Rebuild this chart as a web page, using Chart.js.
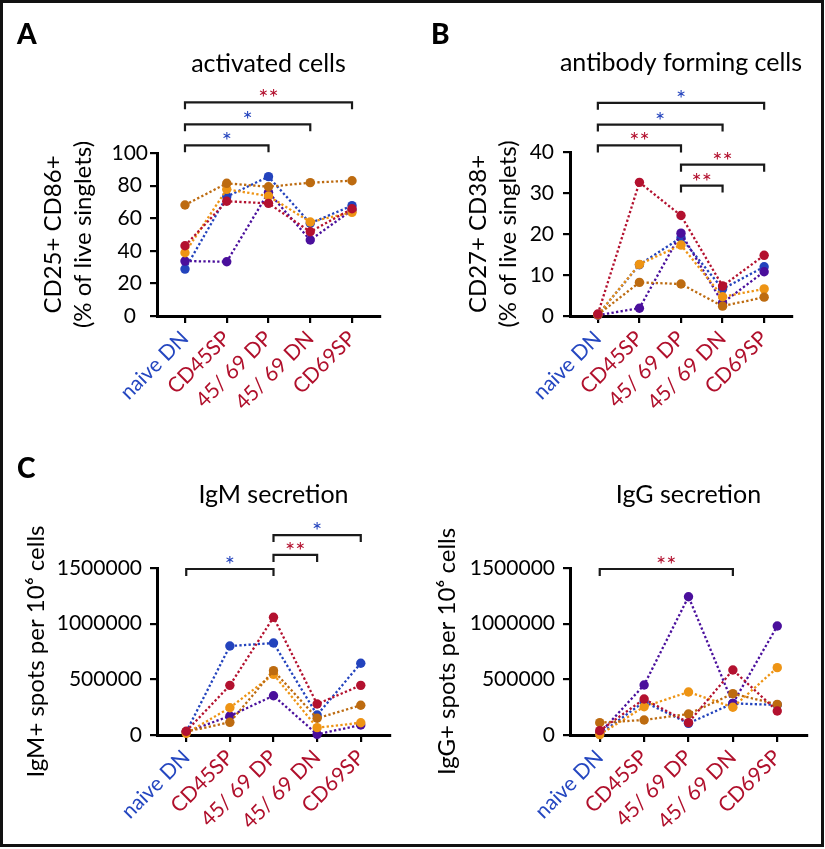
<!DOCTYPE html>
<html>
<head>
<meta charset="utf-8">
<script src="https://cdn.jsdelivr.net/npm/chart.js@4.4.1/dist/chart.umd.min.js"></script>
<style>
  body { margin: 0; background: #fff; }
  canvas { position: absolute; }
  #frame { position: absolute; left: 0; top: 0; width: 824px; height: 847px; border: 3px solid #111; box-sizing: border-box; pointer-events: none; }
</style>
</head>
<body>
<canvas id="chartA" width="412" height="420" style="left:0;top:0"></canvas>
<canvas id="chartB" width="412" height="420" style="left:412px;top:0"></canvas>
<canvas id="chartC" width="412" height="428" style="left:0;top:420px"></canvas>
<canvas id="chartD" width="412" height="428" style="left:412px;top:420px"></canvas>
<div id="frame"></div>
<script>
const categories = ['naive DN', 'CD45SP', '45/ 69 DP', '45/ 69 DN', 'CD69SP'];

// A - activated cells (% CD25+ CD86+)
const activatedBlue   = [28.8, 73.2, 85.5, 56.9, 67.7];
const activatedRed    = [43.1, 70.4, 69.1, 51.7, 65.8];
const activatedPurple = [33.7, 33.3, 75.9, 46.6, 65.0];
const activatedOrange = [38.8, 77.7, 73.6, 57.7, 63.6];
const activatedBrown  = [68.1, 81.4, 79.3, 81.8, 83.0];

// B - antibody forming cells (% CD27+ CD38+)
const afcBlue   = [0.3, 12.5, 19.1, 6.6, 12.0];
const afcRed    = [0.5, 32.6, 24.5, 7.3, 14.8];
const afcPurple = [0.2, 1.9, 20.2, 3.2, 10.8];
const afcOrange = [0.3, 12.6, 17.3, 4.7, 6.6];
const afcBrown  = [0.3, 8.2, 7.8, 2.4, 4.6];

// C - IgM spots per 10^6 cells
const igmBlue   = [28000, 799000, 826000, 180000, 644000];
const igmRed    = [34000, 446000, 1057000, 278000, 446000];
const igmPurple = [26000, 171000, 353000, 6000, 90000];
const igmOrange = [15000, 245000, 545000, 66000, 110000];
const igmBrown  = [30000, 114000, 578000, 150000, 267000];

// D - IgG spots per 10^6 cells
const iggBlue   = [8000, 299000, 105000, 284000, 270000];
const iggRed    = [39000, 323000, 111000, 584000, 216000];
const iggPurple = [15000, 449000, 1242000, 284000, 979000];
const iggOrange = [4000, 254000, 386000, 249000, 605000];
const iggBrown  = [111000, 135000, 189000, 371000, 275000];

const FONT = "Lato, 'Open Sans', sans-serif";
const BLUE = '#2343bd', RED = '#b3112f', PURPLE = '#4a0f9c', ORANGE = '#ee9414', BROWN = '#bd6b10';
const LABEL_BLUE = '#2547c0', LABEL_RED = '#b0102c';

function series(label, values, color) {
    return {
        label: label,
        data: values.map((v, i) => ({ x: i, y: v })),
        borderColor: color,
        backgroundColor: color,
        pointBackgroundColor: color,
        pointBorderWidth: 0,
        pointRadius: 4.7,
        borderWidth: 2.3,
        borderDash: [2.3, 2.3],
        fill: false,
        tension: 0,
        clip: false
    };
}

// panel letter, title and significance brackets
function decor(info) {
    return {
        id: 'decor',
        afterDraw(chart) {
            const ctx = chart.ctx, xs = chart.scales.x, ys = chart.scales.y;
            const area = chart.chartArea;
            ctx.save();
            ctx.textBaseline = 'alphabetic';
            if (info.letter) {
                ctx.fillStyle = '#000';
                ctx.font = '900 28px ' + FONT;
                ctx.textAlign = 'left';
                ctx.fillText(info.letter, info.letterX, info.letterY);
            }
            ctx.fillStyle = '#000';
            ctx.font = '25px ' + FONT;
            ctx.textAlign = 'center';
            ctx.fillText(info.title, (area.left + area.right) / 2, info.titleY);

            ctx.strokeStyle = '#1a1a1a';
            ctx.lineWidth = 2.2;
            info.brackets.forEach(b => {
                const x0 = xs.getPixelForValue(b.from), x1 = xs.getPixelForValue(b.to);
                const yy = ys.getPixelForValue(b.level);
                ctx.beginPath();
                ctx.moveTo(x0, yy + 7);
                ctx.lineTo(x0, yy);
                ctx.lineTo(x1, yy);
                ctx.lineTo(x1, yy + 7);
                ctx.stroke();
                ctx.fillStyle = b.mark === '**' ? RED : BLUE;
                ctx.font = '24px ' + FONT;
                ctx.fillText(b.mark, (x0 + x1) / 2, yy + 4);
            });
            ctx.restore();
        }
    };
}

function makePanel(id, p) {
    const axisCommon = {
        border: { color: '#000', width: 3 },
        grid: { display: true, drawOnChartArea: false, drawTicks: true, tickLength: 7, color: '#000', lineWidth: 2.2 }
    };
    return new Chart(document.getElementById(id), {
        type: 'line',
        data: {
            datasets: [
                series('red', p.red, RED),
                series('brown', p.brown, BROWN),
                series('orange', p.orange, ORANGE),
                series('purple', p.purple, PURPLE),
                series('blue', p.blue, BLUE)
            ]
        },
        options: {
            responsive: false,
            animation: false,
            layout: { padding: { top: p.plotTop, left: 0, bottom: 0, right: p.padRight } },
            plugins: {
                legend: { display: false },
                tooltip: { enabled: false }
            },
            scales: {
                x: Object.assign({}, axisCommon, {
                    type: 'linear',
                    min: -0.67,
                    max: 4.67,
                    afterBuildTicks: s => { s.ticks = categories.map((c, i) => ({ value: i })); },
                    afterFit: s => { s.height = p.xHeight; },
                    ticks: {
                        autoSkip: false,
                        minRotation: 45,
                        maxRotation: 45,
                        padding: 3,
                        font: { family: FONT, size: 21 },
                        color: c => c.index === 0 ? LABEL_BLUE : LABEL_RED,
                        callback: v => categories[v]
                    }
                }),
                y: Object.assign({}, axisCommon, {
                    min: 0,
                    max: p.yMax,
                    afterFit: s => { s.width = p.yWidth; },
                    ticks: {
                        stepSize: p.yStep,
                        padding: p.tickPad,
                        crossAlign: p.tickAlign,
                        color: '#000',
                        font: { family: FONT, size: 21 },
                        callback: v => String(v)
                    },
                    title: {
                        display: true,
                        text: p.yTitle,
                        color: '#000',
                        font: { family: FONT, size: 24, lineHeight: 1.25 },
                        padding: { top: p.yTitlePad, bottom: 0 }
                    }
                })
            }
        },
        plugins: [decor(p)]
    });
}

makePanel('chartA', {
    letter: 'A', letterX: 17, letterY: 44,
    title: 'activated cells', titleY: 72, plotTop: 153,
    yTitle: ['CD25+ CD86+', '(% of live singlets)'], yTitlePad: 38.7,
    yMax: 100, yStep: 20, yWidth: 157, xHeight: 104, padRight: 32,
    tickPad: 2, tickAlign: 'center',
    blue: activatedBlue, red: activatedRed, purple: activatedPurple, orange: activatedOrange, brown: activatedBrown,
    brackets: [
        { from: 0, to: 2, level: 104.7, mark: '*' },
        { from: 0, to: 3, level: 117.6, mark: '*' },
        { from: 0, to: 4, level: 131.1, mark: '**' }
    ]
});

makePanel('chartB', {
    letter: 'B', letterX: 19, letterY: 44,
    title: 'antibody forming cells', titleY: 71, plotTop: 152,
    yTitle: ['CD27+ CD38+', '(% of live singlets)'], yTitlePad: 51.7,
    yMax: 40, yStep: 10, yWidth: 158, xHeight: 104, padRight: 32,
    tickPad: 9, tickAlign: 'near',
    blue: afcBlue, red: afcRed, purple: afcPurple, orange: afcOrange, brown: afcBrown,
    brackets: [
        { from: 0, to: 4, level: 52.0, mark: '*' },
        { from: 0, to: 3, level: 46.7, mark: '*' },
        { from: 0, to: 2, level: 41.6, mark: '**' },
        { from: 2, to: 4, level: 36.9, mark: '**' },
        { from: 2, to: 3, level: 31.8, mark: '**' }
    ]
});

makePanel('chartC', {
    letter: 'C', letterX: 17, letterY: 58,
    title: 'IgM secretion', titleY: 83, plotTop: 148,
    yTitle: 'IgM+ spots per 10\u2076 cells', yTitlePad: 21.7,
    yMax: 1500000, yStep: 500000, yWidth: 157, xHeight: 113, padRight: 22,
    tickPad: 8, tickAlign: 'near',
    blue: igmBlue, red: igmRed, purple: igmPurple, orange: igmOrange, brown: igmBrown,
    brackets: [
        { from: 0, to: 2, level: 1491000, mark: '*' },
        { from: 2, to: 3, level: 1617000, mark: '**' },
        { from: 2, to: 4, level: 1796000, mark: '*' }
    ]
});

makePanel('chartD', {
    letter: '', letterX: 0, letterY: 0,
    title: 'IgG secretion', titleY: 83, plotTop: 148,
    yTitle: 'IgG+ spots per 10\u2076 cells', yTitlePad: 20.7,
    yMax: 1500000, yStep: 500000, yWidth: 158, xHeight: 113, padRight: 17,
    tickPad: 8, tickAlign: 'near',
    blue: iggBlue, red: iggRed, purple: iggPurple, orange: iggOrange, brown: iggBrown,
    brackets: [
        { from: 0, to: 3, level: 1491000, mark: '**' }
    ]
});
</script>
</body>
</html>
